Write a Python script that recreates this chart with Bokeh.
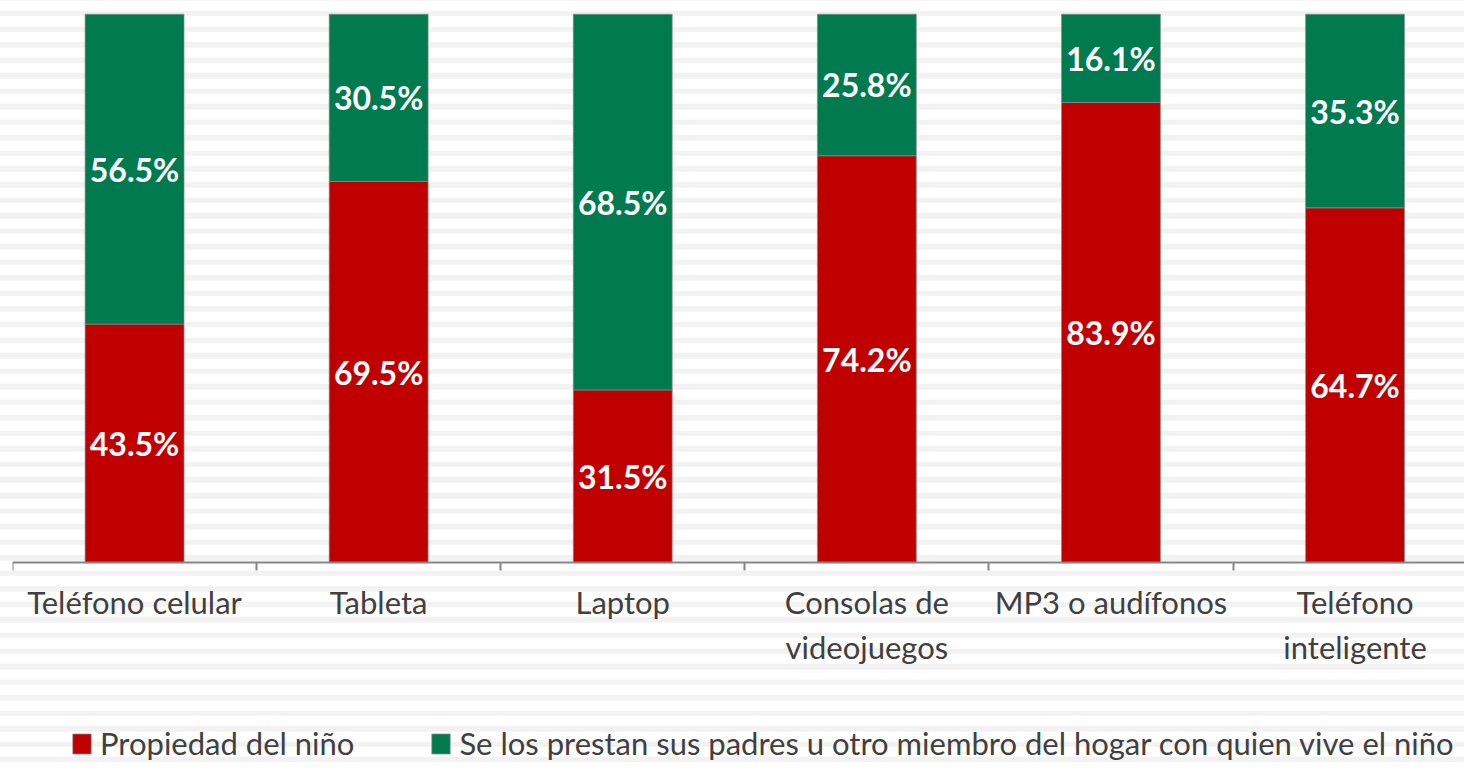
from bokeh.plotting import figure
from bokeh.models import Range1d, FixedTicker, Legend, LegendItem, ColumnDataSource
from bokeh.core.properties import value
from bokeh.embed import file_html
from bokeh.resources import INLINE

# ---- data ----
categories = ["Teléfono celular", "Tableta", "Laptop", "Consolas de videojuegos",
              "MP3 o audífonos", "Teléfono inteligente"]
tick_labels = ["Teléfono celular", "Tableta", "Laptop", "Consolas de\nvideojuegos",
               "MP3 o audífonos", "Teléfono\ninteligente"]
propiedad = [43.5, 69.5, 31.5, 74.2, 83.9, 64.7]
prestados = [56.5, 30.5, 68.5, 25.8, 16.1, 35.3]
series_names = ["Propiedad del niño",
                "Se los prestan sus padres u otro miembro del hogar con quien vive el niño"]
colors = ["#C00000", "#007A4E"]

FONT = "Lato"
TEXT_COLOR = "#404040"

n = len(categories)
xs = list(range(n))

W, H = 1464, 762
left_px = 12
cat_px = 244.1          # pixels per category
px_per_pct = 5.485      # pixels per percentage point
top_px = 13.7           # gap above the 100% line
base_px = 562.2         # y pixel of the 0 line

p = figure(width=W, height=H,
           x_range=Range1d(-0.5, -0.5 + (W - left_px) / cat_px),
           y_range=Range1d(-(H - base_px) / px_per_pct, 100 + top_px / px_per_pct),
           output_backend="svg", toolbar_location=None,
           y_axis_location=None,
           min_border_left=left_px, min_border_right=0, min_border_top=0,
           min_border_bottom=0)

p.background_fill_alpha = 0
p.border_fill_alpha = 0
p.outline_line_color = None
p.xgrid.visible = False
p.ygrid.visible = False
p.styles = {
    "background-image": "repeating-linear-gradient(to bottom, #f2f2f2 0px, #f2f2f2 5.5px, #ffffff 5.5px, #ffffff 15.55px)",
    "background-position": "0px 10.8px",
}

source = ColumnDataSource(dict(x=xs, propiedad=propiedad, prestados=prestados))
rs = p.vbar_stack(["propiedad", "prestados"], x="x", width=100 / 246.8,
                  fill_color=colors, line_color="#8a8a8a", line_alpha=0.7,
                  line_width=1, source=source)

# data labels centred in each segment
lab_x, lab_y, lab_t = [], [], []
for i in xs:
    lab_x.append(i)
    lab_y.append(propiedad[i] / 2)
    lab_t.append(f"{propiedad[i]:.1f}%")
    lab_x.append(i)
    lab_y.append(propiedad[i] + prestados[i] / 2)
    lab_t.append(f"{prestados[i]:.1f}%")
p.text(x=lab_x, y=lab_y, text=lab_t, text_align="center", text_baseline="middle",
       text_font=value(FONT), text_font_style="bold", text_font_size="32px",
       text_color="white")

ax = p.xaxis[0]
ax.fixed_location = 0
ax.ticker = FixedTicker(ticks=xs, minor_ticks=[i - 0.5 for i in range(n + 1)])
ax.major_label_overrides = {i: t for i, t in zip(xs, tick_labels)}
ax.major_tick_line_color = None
ax.major_tick_out = 8
ax.major_tick_in = 0
ax.minor_tick_out = 8
ax.minor_tick_in = 0
ax.minor_tick_line_color = "#868686"
ax.minor_tick_line_width = 2
ax.axis_line_color = "#868686"
ax.axis_line_width = 2
ax.major_label_standoff = 12
ax.major_label_text_font = FONT
ax.major_label_text_font_size = "31px"
ax.major_label_text_color = TEXT_COLOR

legend = Legend(items=[LegendItem(label=series_names[0], renderers=[rs[0]]),
                       LegendItem(label=series_names[1], renderers=[rs[1]])],
                orientation="horizontal", location=(58, 0),
                border_line_color=None, background_fill_alpha=0,
                padding=0, margin=0, glyph_width=23, glyph_height=25,
                label_standoff=7, spacing=75,
                label_text_font=FONT, label_text_font_size="31px",
                label_text_color=TEXT_COLOR)
p.add_layout(legend, "center")

open("out.html", "w").write(file_html(p, INLINE))
